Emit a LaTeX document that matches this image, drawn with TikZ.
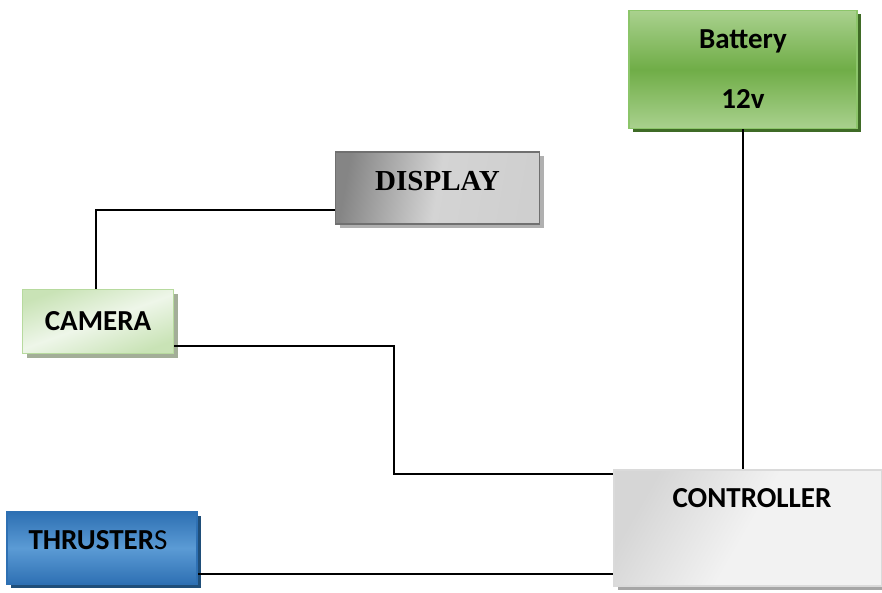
\documentclass[tikz,border=0pt]{standalone}
\usepackage{fontspec}
\setmainfont{Carlito}
\newfontfamily\timesfont{Liberation Serif}
\usetikzlibrary{shadows}
\definecolor{grnA}{HTML}{A9D18E}
\definecolor{grnB}{HTML}{70AD47}
\definecolor{grnS}{HTML}{3F6B26}
\definecolor{grnE}{HTML}{8CC56A}
\definecolor{camA}{HTML}{C9E3B6}
\definecolor{camB}{HTML}{EEF6E9}
\definecolor{camE}{HTML}{B7DA9E}
\definecolor{camS}{HTML}{A3AE98}
\definecolor{bluA}{HTML}{2E70B3}
\definecolor{bluB}{HTML}{5B9BD5}
\definecolor{bluS}{HTML}{1F4E79}
\definecolor{gryA}{HTML}{858585}
\definecolor{gryB}{HTML}{CFCFCF}
\definecolor{gryE}{HTML}{707070}
\definecolor{gryS}{HTML}{B0B0B0}
\definecolor{ctlA}{HTML}{D6D6D6}
\definecolor{ctlB}{HTML}{F2F2F2}
\definecolor{ctlS}{HTML}{A6A6A6}
\tikzset{
  blk/.style={rectangle, inner sep=0pt, line width=1.6pt,
    font=\fontsize{29}{35}\selectfont\bfseries},
  txt/.style={font=\fontsize{29}{35}\selectfont\bfseries, anchor=center, inner sep=0pt},
  wire/.style={line width=1.1pt, black}
}
\begin{document}
\begin{tikzpicture}[x=1pt,y=-1pt]
\useasboundingbox (0,0) rectangle (882,593);
% Battery
\node[blk, draw=grnE, top color=grnA, bottom color=grnA, middle color=grnB,
  drop shadow={shadow xshift=4pt, shadow yshift=-4pt, fill=grnS, opacity=1},
  minimum width=228pt, minimum height=118pt, align=center]
  (bat) at (743,69.5) {Battery\\[25pt]12v};
% Display
\node[blk, draw=gryE, left color=gryA, right color=gryB, middle color=gryB!90!white,
  shading angle=80,
  drop shadow={shadow xshift=4pt, shadow yshift=-4pt, fill=gryS, opacity=1},
  minimum width=204pt, minimum height=72pt,
  label={[txt, font=\timesfont\fontsize{29}{35}\selectfont\bfseries, yshift=7pt, xshift=0pt]center:DISPLAY}]
  (disp) at (437.5,188) {};
% Camera
\node[blk, draw=camE, top color=camA, bottom color=camA, middle color=camB,
  shading angle=20,
  drop shadow={shadow xshift=4pt, shadow yshift=-4pt, fill=camS, opacity=1},
  minimum width=151pt, minimum height=64pt]
  (cam) at (98,321.5) {CAMERA};
% Thrusters
\node[blk, draw=bluA, top color=bluA, bottom color=bluA, middle color=bluB,
  drop shadow={shadow xshift=4pt, shadow yshift=-4pt, fill=bluS, opacity=1},
  minimum width=190pt, minimum height=72pt,
  label={[txt, yshift=8pt, xshift=-4pt]center:THRUSTER{\mdseries S}}]
  (thr) at (102,548) {};
% Controller
\node[blk, draw=ctlA!90!white, left color=ctlA, right color=ctlB, middle color=ctlB,
  shading angle=60,
  drop shadow={shadow xshift=4pt, shadow yshift=-4pt, fill=ctlS, opacity=1},
  minimum width=268pt, minimum height=116pt,
  label={[txt, yshift=-29pt, xshift=4pt]north:CONTROLLER}]
  (ctrl) at (748,528) {};
% junction coordinates
\coordinate (dA) at ([yshift=-22pt]disp.west);
\coordinate (cA) at ([yshift=-24.5pt]cam.east);
\coordinate (cB) at (394,346);
\coordinate (kA) at ([yshift=54pt]ctrl.west);
\coordinate (tA) at ([yshift=-26pt]thr.east);
% wires
\draw[wire] (bat.south) -- (bat.south |- ctrl.north);
\draw[wire] (dA) -| ([xshift=-2pt]cam.north);
\draw[wire] (cA) -- (cB) |- (kA);
\draw[wire] (tA) -- (tA -| ctrl.west);
\end{tikzpicture}
\end{document}
